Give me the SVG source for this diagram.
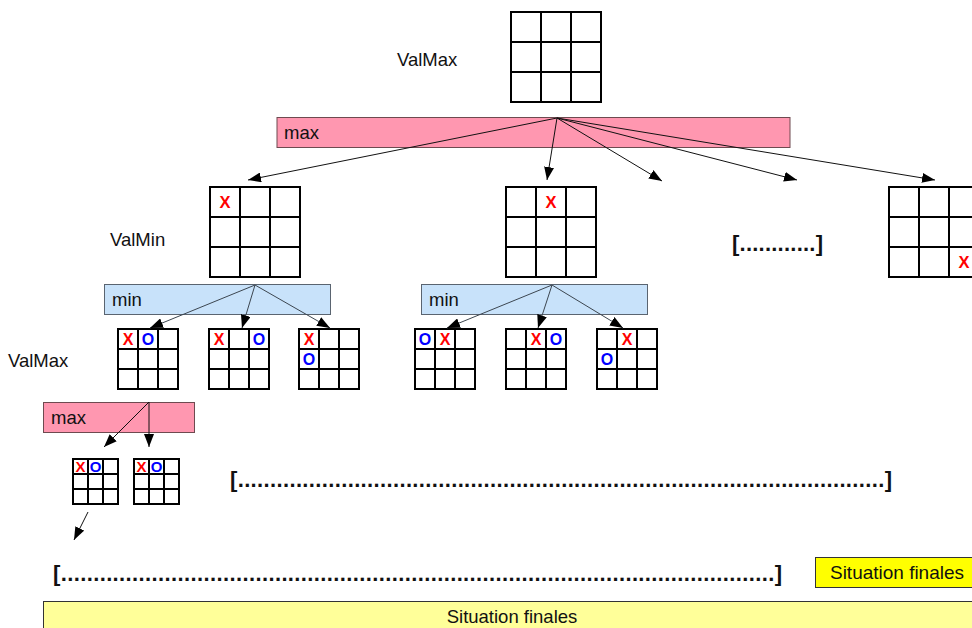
<svg xmlns="http://www.w3.org/2000/svg" xmlns:xlink="http://www.w3.org/1999/xlink" width="972" height="628" viewBox="0 0 972 628">
<style>
.lbl{font-family:"Liberation Sans",Arial,sans-serif;font-size:18.5px;fill:#111}
.dots{font-family:"Liberation Sans",Arial,sans-serif;font-size:22px;font-weight:bold;fill:#111}
.x{font-family:"Liberation Sans",Arial,sans-serif;font-weight:bold;fill:#ff0000;text-anchor:middle}
.o{font-family:"Liberation Sans",Arial,sans-serif;font-weight:bold;fill:#0000ff;text-anchor:middle}
.gl{fill:none;stroke:#000;stroke-width:2}
.maxbar{fill:#ff97b0;stroke:#6e4a50;stroke-width:1}
.minbar{fill:#c8e2fa;stroke:#5a6470;stroke-width:1}
.fan{stroke:#111;stroke-width:1;fill:none;marker-end:url(#ah)}
.fan2{stroke:#3c4650;stroke-width:1;fill:none;marker-end:url(#ah)}
</style>
<defs>
<marker id="ah" markerUnits="userSpaceOnUse" markerWidth="14" markerHeight="10" refX="13" refY="5" orient="auto">
<path d="M0,0 L13,5 L0,10 z" fill="#000"/>
</marker>
<g id="grid90"><rect class="gl" x="0" y="0" width="90" height="90"/><path class="gl" d="M30,0v90M60,0v90M0,30h90M0,60h90"/></g>
<g id="grid60"><rect class="gl" x="0" y="0" width="60" height="60"/><path class="gl" d="M20,0v60M40,0v60M0,20h60M0,40h60"/></g>
<g id="grid45"><rect class="gl" x="0" y="0" width="45" height="45"/><path class="gl" d="M15,0v45M30,0v45M0,15h45M0,30h45"/></g>
</defs>
<rect width="972" height="628" fill="#fff"/>

<g id="labels">
<text class="lbl" x="397" y="66">ValMax</text>
<text class="lbl" x="110" y="246">ValMin</text>
<text class="lbl" x="8" y="367">ValMax</text>
</g>

<g id="root"><use href="#grid90" x="511" y="12"/></g>

<g id="maxbar1"><rect class="maxbar" x="277" y="117.5" width="513" height="30"/><text class="lbl" x="284" y="139">max</text></g>

<g id="n1"><use href="#grid90" x="210" y="187"/><text class="x" font-size="16.5" x="225" y="208">X</text></g>
<g id="n2"><use href="#grid90" x="506" y="187"/><text class="x" font-size="16.5" x="551" y="208">X</text></g>
<g id="n3"><use href="#grid90" x="889" y="187"/><text class="x" font-size="16.5" x="964" y="268">X</text></g>
<g id="ellipsis1"><text class="dots" x="732" y="251" textLength="91" lengthAdjust="spacing">[............]</text></g>

<g id="minbar1"><rect class="minbar" x="104.5" y="284.5" width="226" height="30"/><text class="lbl" x="112" y="306">min</text></g>
<g id="minbar2"><rect class="minbar" x="421.5" y="284.5" width="226" height="30"/><text class="lbl" x="429" y="306">min</text></g>

<g id="n11"><use href="#grid60" x="118" y="329"/><text class="x" font-size="16" x="128" y="345">X</text><text class="o" font-size="16" x="148" y="345">O</text></g>
<g id="n12"><use href="#grid60" x="209" y="329"/><text class="x" font-size="16" x="219" y="345">X</text><text class="o" font-size="16" x="259" y="345">O</text></g>
<g id="n13"><use href="#grid60" x="299" y="329"/><text class="x" font-size="16" x="309" y="345">X</text><text class="o" font-size="16" x="309" y="365">O</text></g>
<g id="n21"><use href="#grid60" x="415" y="329"/><text class="o" font-size="16" x="425" y="345">O</text><text class="x" font-size="16" x="445" y="345">X</text></g>
<g id="n22"><use href="#grid60" x="506" y="329"/><text class="x" font-size="16" x="536" y="345">X</text><text class="o" font-size="16" x="556" y="345">O</text></g>
<g id="n23"><use href="#grid60" x="597" y="329"/><text class="x" font-size="16" x="627" y="345">X</text><text class="o" font-size="16" x="607" y="365">O</text></g>

<g id="maxbar2"><rect class="maxbar" x="43.5" y="402.5" width="151" height="30"/><text class="lbl" x="51" y="424">max</text></g>

<g id="n111"><use href="#grid45" x="73" y="459"/><text class="x" font-size="15" x="80.5" y="472">X</text><text class="o" font-size="15" x="95.5" y="472">O</text></g>
<g id="n112"><use href="#grid45" x="134" y="459"/><text class="x" font-size="15" x="141.5" y="472">X</text><text class="o" font-size="15" x="156.5" y="472">O</text></g>
<g id="ellipsis2"><text class="dots" x="230" y="487" textLength="662" lengthAdjust="spacing">[....................................................................................................]</text></g>
<g id="ellipsis3"><text class="dots" x="53" y="581" textLength="729" lengthAdjust="spacing">[..............................................................................................................]</text></g>

<g id="final1"><rect x="815.5" y="557.5" width="160" height="30" fill="#ffff00" stroke="#333" stroke-width="1"/><text class="lbl" x="830" y="579" textLength="134" lengthAdjust="spacingAndGlyphs">Situation finales</text></g>
<g id="final2"><rect x="43.5" y="601.5" width="935" height="30" fill="#ffff99" stroke="#333" stroke-width="1"/><text class="lbl" x="512" y="623" text-anchor="middle">Situation finales</text></g>

<g id="connectors">
<path class="fan" d="M557,118L248,180"/>
<path class="fan" d="M557,118L547,180"/>
<path class="fan" d="M557,118L662,181"/>
<path class="fan" d="M557,118L797,180"/>
<path class="fan" d="M557,118L935,180"/>
<path class="fan2" d="M255,285L150,328"/>
<path class="fan2" d="M255,285L242,328"/>
<path class="fan2" d="M255,285L330,328"/>
<path class="fan2" d="M552,285L447,328"/>
<path class="fan2" d="M552,285L538,328"/>
<path class="fan2" d="M552,285L623,328"/>
<path class="fan" d="M149,402L104,447"/>
<path class="fan" d="M149,402L149,447"/>
<path class="fan" d="M88,512L74,540"/>
</g>
</svg>
